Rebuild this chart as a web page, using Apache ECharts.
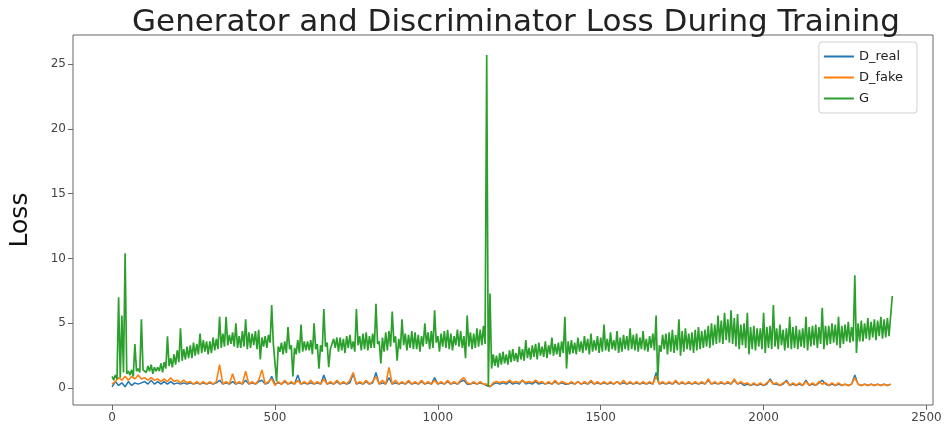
<!DOCTYPE html>
<html>
<head>
<meta charset="utf-8">
<script src="https://cdn.jsdelivr.net/npm/echarts@6/dist/echarts.min.js"></script>
<style>html,body{margin:0;padding:0;background:#fff;}#c{width:948px;height:434px;}</style>
</head>
<body>
<div id="c"></div>
<script>
// iterations sampled every STEP_G (generator) / STEP_D (discriminator)
const STEP_G = 5;
const STEP_D = 10;
const seriesNames = ['D_real', 'D_fake', 'G'];
const xTicks = [0, 500, 1000, 1500, 2000, 2500];
const yTicks = [0, 5, 10, 15, 20, 25];

const gLoss = [
  0.9,0.6,1.0,0.7,7.0,0.8,5.6,1.2,10.4,1.1,1.3,1.0,1.4,0.9,3.4,1.3,1.5,1.2,5.3,1.4,
  1.5,1.2,1.7,1.3,1.8,1.1,1.6,1.3,1.6,1.3,1.9,1.2,2.0,1.5,4.0,1.7,2.3,1.6,2.6,1.8,
  2.9,2.0,4.6,2.1,3.0,2.2,3.2,2.3,3.3,2.3,3.5,2.5,3.4,2.6,4.2,2.7,3.7,2.8,3.6,2.6,
  3.6,2.7,3.9,2.9,3.8,3.0,5.5,3.1,4.2,3.2,5.5,3.3,4.1,3.4,4.3,3.2,5.0,3.1,4.0,3.1,
  4.4,3.2,5.3,3.0,4.3,3.1,4.2,3.3,4.4,3.0,4.5,2.2,3.9,3.2,4.0,3.1,4.1,3.5,6.4,3.4,
  3.4,0.5,3.2,2.8,3.5,2.6,3.6,2.7,4.7,3.0,3.3,0.9,3.1,2.6,3.7,2.7,4.9,2.8,3.6,2.9,
  3.6,2.9,3.7,2.6,5.0,3.0,3.4,1.5,3.3,2.8,6.1,3.2,3.5,1.6,3.0,2.9,3.8,3.1,3.9,2.8,
  3.9,2.9,3.8,2.7,4.0,3.1,4.1,3.0,3.6,2.8,6.1,3.3,4.0,2.9,4.2,3.0,4.3,2.9,4.0,3.1,
  4.2,3.1,6.5,3.4,3.6,1.9,3.9,2.8,4.3,2.9,4.4,3.2,5.9,3.5,4.0,2.1,3.8,3.0,5.3,3.3,
  4.2,2.9,4.1,3.1,4.4,3.0,4.3,3.0,4.1,2.8,4.0,3.2,5.0,3.4,4.3,3.0,4.4,3.1,6.0,3.5,
  4.0,2.8,4.2,3.2,4.4,3.1,4.5,3.0,4.2,2.9,4.0,3.3,4.5,3.2,4.4,3.1,4.0,2.3,5.6,3.2,
  4.3,3.0,4.2,3.1,4.6,3.2,4.5,3.3,4.8,3.4,25.7,0.1,7.3,1.5,2.6,1.7,2.5,1.6,2.7,1.8,
  2.8,1.9,2.6,1.8,2.9,2.0,3.0,2.1,2.7,2.0,3.2,2.2,3.0,2.1,3.7,2.3,3.1,2.2,3.3,2.4,
  3.4,2.2,3.5,2.5,3.2,2.4,3.6,2.3,3.3,2.6,3.9,2.5,3.4,2.6,3.5,2.4,3.6,2.7,5.5,1.5,
  3.6,2.6,3.7,2.7,3.5,2.6,3.9,2.8,3.6,2.7,4.0,2.9,3.8,2.6,4.2,2.8,3.7,2.9,4.0,2.7,
  3.9,2.8,4.9,2.9,3.8,2.8,4.3,3.0,3.7,2.9,4.4,2.7,3.9,2.8,4.1,3.0,4.0,2.9,4.6,3.0,
  4.1,2.9,4.2,2.8,3.9,3.0,4.4,2.9,3.8,2.8,4.0,3.1,4.2,2.9,5.6,0.6,3.3,2.8,4.1,3.0,
  4.2,2.6,4.3,2.8,4.5,2.7,4.1,2.9,5.3,2.5,4.4,2.8,4.6,3.0,4.2,2.9,4.3,2.7,4.5,2.9,
  4.7,3.0,4.4,3.1,4.5,3.2,4.8,3.1,5.0,3.3,4.9,3.4,5.6,3.5,5.2,3.4,5.8,3.7,5.3,3.5,
  6.0,3.4,5.4,3.2,5.7,3.0,4.9,3.3,5.0,3.1,5.8,2.6,4.7,3.0,4.8,2.9,4.6,3.2,4.6,3.0,
  5.8,2.7,4.7,3.1,4.8,3.0,6.4,3.2,4.6,3.0,4.9,3.3,4.5,2.9,4.6,3.1,5.5,3.0,4.7,3.1,
  4.8,3.0,4.5,3.2,4.6,3.1,5.5,2.9,4.7,3.2,4.8,3.3,4.9,3.1,4.7,3.4,6.2,3.0,4.8,3.3,
  4.8,3.4,5.0,3.5,4.9,3.3,5.5,3.1,4.8,3.4,4.9,3.6,5.1,3.5,4.7,3.6,8.7,2.7,5.0,3.6,
  5.2,3.6,5.0,3.8,5.4,3.7,5.1,3.9,5.3,3.7,5.2,4.0,5.5,3.8,5.3,3.9,5.4,4.0,4.1,7.1
];

const dFake = [
  0.3,0.5,0.8,0.6,0.9,0.6,0.9,0.7,1.0,0.7,
  0.8,0.6,0.8,0.6,0.7,0.5,0.7,0.5,0.8,0.5,
  0.6,0.4,0.6,0.4,0.5,0.3,0.5,0.3,0.5,0.3,
  0.5,0.3,0.5,1.8,0.3,0.5,0.3,1.1,0.3,0.5,
  0.3,1.3,0.3,0.5,0.3,0.6,1.4,0.3,0.5,0.7,
  0.2,0.5,0.3,0.6,0.3,0.5,0.3,0.6,0.3,0.5,
  0.3,0.6,0.3,0.5,0.3,0.7,0.3,0.5,0.3,0.6,
  0.3,0.5,0.3,0.6,1.2,0.3,0.5,0.3,0.6,0.3,
  0.5,0.9,0.3,0.6,0.3,1.6,0.3,0.6,0.3,0.5,
  0.3,0.6,0.3,0.5,0.3,0.6,0.3,0.5,0.3,0.6,
  0.3,0.5,0.3,0.6,0.3,0.5,0.3,0.6,0.8,0.4,
  0.3,0.5,0.3,0.5,0.3,0.3,0.1,0.4,0.5,0.4,
  0.5,0.4,0.6,0.4,0.5,0.4,0.6,0.4,0.5,0.4,
  0.6,0.4,0.5,0.3,0.5,0.3,0.6,0.3,0.5,0.4,
  0.3,0.5,0.3,0.5,0.3,0.5,0.3,0.6,0.3,0.5,
  0.3,0.5,0.3,0.5,0.3,0.5,0.3,0.6,0.3,0.5,
  0.3,0.5,0.3,0.5,0.3,0.5,0.3,0.9,0.3,0.5,
  0.3,0.5,0.3,0.6,0.3,0.5,0.3,0.5,0.3,0.5,
  0.3,0.5,0.3,0.7,0.3,0.5,0.3,0.5,0.3,0.5,
  0.3,0.7,0.3,0.5,0.3,0.4,0.2,0.4,0.2,0.4,
  0.2,0.4,0.6,0.3,0.4,0.2,0.4,0.5,0.2,0.4,
  0.2,0.4,0.2,0.5,0.2,0.4,0.2,0.5,0.3,0.4,
  0.2,0.4,0.2,0.4,0.2,0.3,0.2,0.3,0.8,0.3,
  0.2,0.3,0.2,0.3,0.2,0.3,0.2,0.3,0.2,0.3
];

const dReal = [
  0.1,0.5,0.2,0.4,0.1,0.5,0.2,0.4,0.3,0.4,
  0.5,0.3,0.6,0.3,0.5,0.3,0.5,0.3,0.5,0.3,
  0.4,0.3,0.4,0.3,0.4,0.3,0.4,0.3,0.4,0.3,
  0.4,0.3,0.4,0.6,0.3,0.4,0.3,0.5,0.3,0.4,
  0.3,0.6,0.3,0.4,0.3,0.5,0.6,0.3,0.4,0.9,
  0.3,0.4,0.3,0.5,0.3,0.4,0.3,1.0,0.3,0.4,
  0.3,0.4,0.3,0.4,0.3,1.0,0.3,0.4,0.3,0.5,
  0.3,0.4,0.3,0.4,1.1,0.3,0.4,0.3,0.5,0.3,
  0.4,1.2,0.3,0.4,0.3,0.8,0.3,0.4,0.3,0.4,
  0.3,0.5,0.3,0.4,0.3,0.5,0.3,0.4,0.3,0.8,
  0.3,0.4,0.3,0.5,0.3,0.4,0.3,0.5,0.6,0.3,
  0.3,0.4,0.3,0.4,0.3,0.2,0.1,0.3,0.4,0.3,
  0.4,0.3,0.5,0.3,0.4,0.3,0.6,0.3,0.4,0.3,
  0.5,0.3,0.4,0.3,0.4,0.3,0.5,0.3,0.4,0.3,
  0.3,0.4,0.3,0.5,0.3,0.4,0.3,0.5,0.3,0.4,
  0.3,0.4,0.3,0.4,0.3,0.5,0.3,0.4,0.3,0.4,
  0.3,0.4,0.3,0.4,0.3,0.4,0.3,1.2,0.3,0.4,
  0.3,0.4,0.3,0.5,0.3,0.4,0.3,0.4,0.3,0.4,
  0.3,0.4,0.3,0.6,0.3,0.4,0.3,0.4,0.3,0.4,
  0.3,0.6,0.3,0.4,0.2,0.3,0.2,0.3,0.2,0.3,
  0.2,0.3,0.7,0.3,0.3,0.2,0.3,0.6,0.2,0.3,
  0.2,0.3,0.2,0.6,0.2,0.3,0.2,0.4,0.6,0.3,
  0.2,0.3,0.2,0.3,0.2,0.3,0.2,0.3,1.0,0.3,
  0.2,0.3,0.2,0.3,0.2,0.3,0.2,0.3,0.2,0.3
];

const colors = ['#1f77b4', '#ff7f0e', '#2ca02c'];
const toPairs = (arr, step) => arr.map((v, i) => [i * step, v]);

const chart = echarts.init(document.getElementById('c'), null, {renderer: 'canvas'});
const axisText = {color: '#444', fontSize: 12, fontFamily: 'DejaVu Sans'};
chart.setOption({
  animation: false,
  backgroundColor: '#fff',
  color: colors,
  title: {
    text: 'Generator and Discriminator Loss During Training',
    left: 511, top: 2, textAlign: 'center',
    textStyle: {fontFamily: 'DejaVu Sans', fontWeight: 'normal', fontSize: 31, color: '#222'}
  },
  legend: {
    orient: 'vertical', right: 31, top: 42,
    data: seriesNames,
    icon: 'rect', itemWidth: 30, itemHeight: 2, itemGap: 8,
    borderColor: '#d0d0d0', borderWidth: 1, borderRadius: 3,
    padding: [8, 14, 8, 5],
    textStyle: {fontFamily: 'DejaVu Sans', fontSize: 13, color: '#222'}
  },
  grid: {left: 73, right: 15, top: 35, bottom: 29, show: true, borderColor: '#666', borderWidth: 1, backgroundColor: 'transparent'},
  xAxis: {
    type: 'value', min: -120, max: 2520,
    axisLine: {show: false, onZero: false},
    splitLine: {show: false},
    axisTick: {show: true, length: 5, lineStyle: {color: '#666'}, customValues: xTicks},
    axisLabel: Object.assign({margin: 7, customValues: xTicks, formatter: v => String(v)}, axisText)
  },
  yAxis: {
    type: 'value', min: -1.31, max: 27.24,
    name: 'Loss', nameLocation: 'middle', nameGap: 40, nameRotate: 90,
    nameTextStyle: {fontFamily: 'DejaVu Sans', fontSize: 25, color: '#111'},
    axisLine: {show: false, onZero: false},
    splitLine: {show: false},
    axisTick: {show: true, length: 5, lineStyle: {color: '#666'}, customValues: yTicks},
    axisLabel: Object.assign({margin: 7, customValues: yTicks, formatter: v => String(v)}, axisText)
  },
  series: [
    {name: seriesNames[0], type: 'line', data: toPairs(dReal, STEP_D), showSymbol: false, symbol: 'none', lineStyle: {width: 1.5, color: colors[0]}, itemStyle: {color: colors[0]}},
    {name: seriesNames[1], type: 'line', data: toPairs(dFake, STEP_D), showSymbol: false, symbol: 'none', lineStyle: {width: 1.6, color: colors[1]}, itemStyle: {color: colors[1]}},
    {name: seriesNames[2], type: 'line', data: toPairs(gLoss, STEP_G), showSymbol: false, symbol: 'none', lineStyle: {width: 1.7, color: colors[2]}, itemStyle: {color: colors[2]}}
  ]
});
</script>
</body>
</html>
